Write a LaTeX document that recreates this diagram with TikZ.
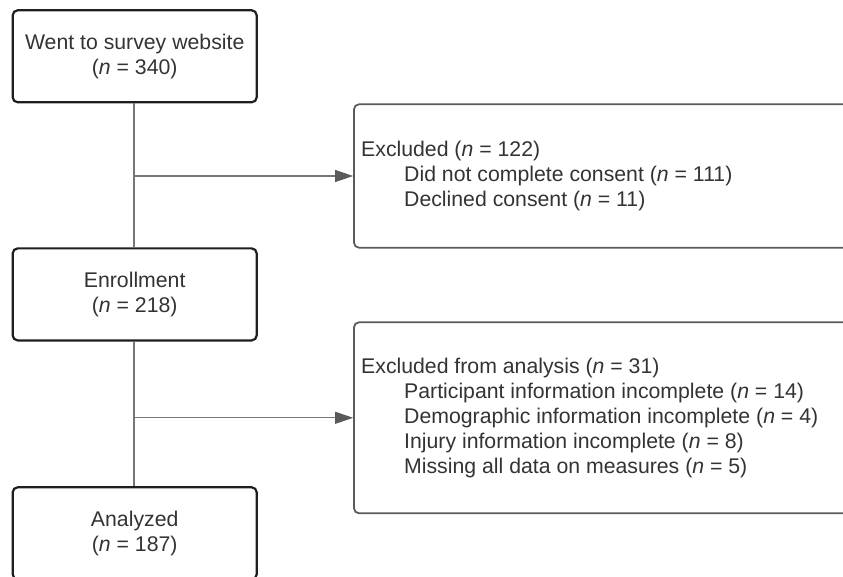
\documentclass[tikz,border=0pt]{standalone}
\usepackage{fontspec}
\setmainfont{Liberation Sans}
\usetikzlibrary{arrows.meta}
\definecolor{txt}{HTML}{333333}
\definecolor{dk}{HTML}{1E1E1E}
\definecolor{gb}{HTML}{5A5A5A}
\definecolor{ln}{HTML}{777777}
\begin{document}
\begin{tikzpicture}[x=1pt,y=-1pt,
  every node/.style={text=txt,font=\fontsize{21.25}{25}\selectfont},
  mainbox/.style={draw=dk,line width=2.2pt,rounded corners=5pt,minimum width=244pt,minimum height=92pt,align=center,inner sep=0pt},
  sidebox/.style={draw=gb,line width=1.8pt,rounded corners=5pt,inner sep=0pt},
  ln/.style={anchor=base west,inner sep=0pt},
  conn/.style={draw=ln,line width=1.1pt},
  arr/.style={conn,-{Triangle[length=18pt,width=12pt,fill=gb,color=gb]}}]
\useasboundingbox (0,0) rectangle (843,577);
\node[mainbox] (top) at (134.7,56.3) {Went to survey website\\(\textit{n} = 340)};
\node[mainbox] (enr) at (134.7,294.4) {Enrollment\\(\textit{n} = 218)};
\node[mainbox] (ana) at (134.7,533.3) {Analyzed\\(\textit{n} = 187)};
\node[sidebox,minimum width=510pt,minimum height=143.4pt] (ex1) at (609,176) {};
\node[sidebox,minimum width=510pt,minimum height=191pt] (ex2) at (609,417.8) {};
\node[ln] (a1) at (361,157) {Excluded (\textit{n} = 122)};
\node[ln] (a2) at (404,182) {Did not complete consent (\textit{n} = 111)};
\node[ln] (a3) at (404,207) {Declined consent (\textit{n} = 11)};
\node[ln] (b1) at (361,373.5) {Excluded from analysis (\textit{n} = 31)};
\node[ln] (b2) at (404,398.5) {Participant information incomplete (\textit{n} = 14)};
\node[ln] (b3) at (404,423.5) {Demographic information incomplete (\textit{n} = 4)};
\node[ln] (b4) at (404,448.5) {Injury information incomplete (\textit{n} = 8)};
\node[ln] (b5) at (404,473.5) {Missing all data on measures (\textit{n} = 5)};
\coordinate (j1) at (134,176);
\coordinate (j2) at (134,417.8);
\draw[conn] (134,0|-top.south) -- (134,0|-enr.north);
\draw[conn] (134,0|-enr.south) -- (134,0|-ana.north);
\draw[arr] (j1) -- (ex1.west);
\draw[arr] (j2) -- (ex2.west);
\end{tikzpicture}
\end{document}
